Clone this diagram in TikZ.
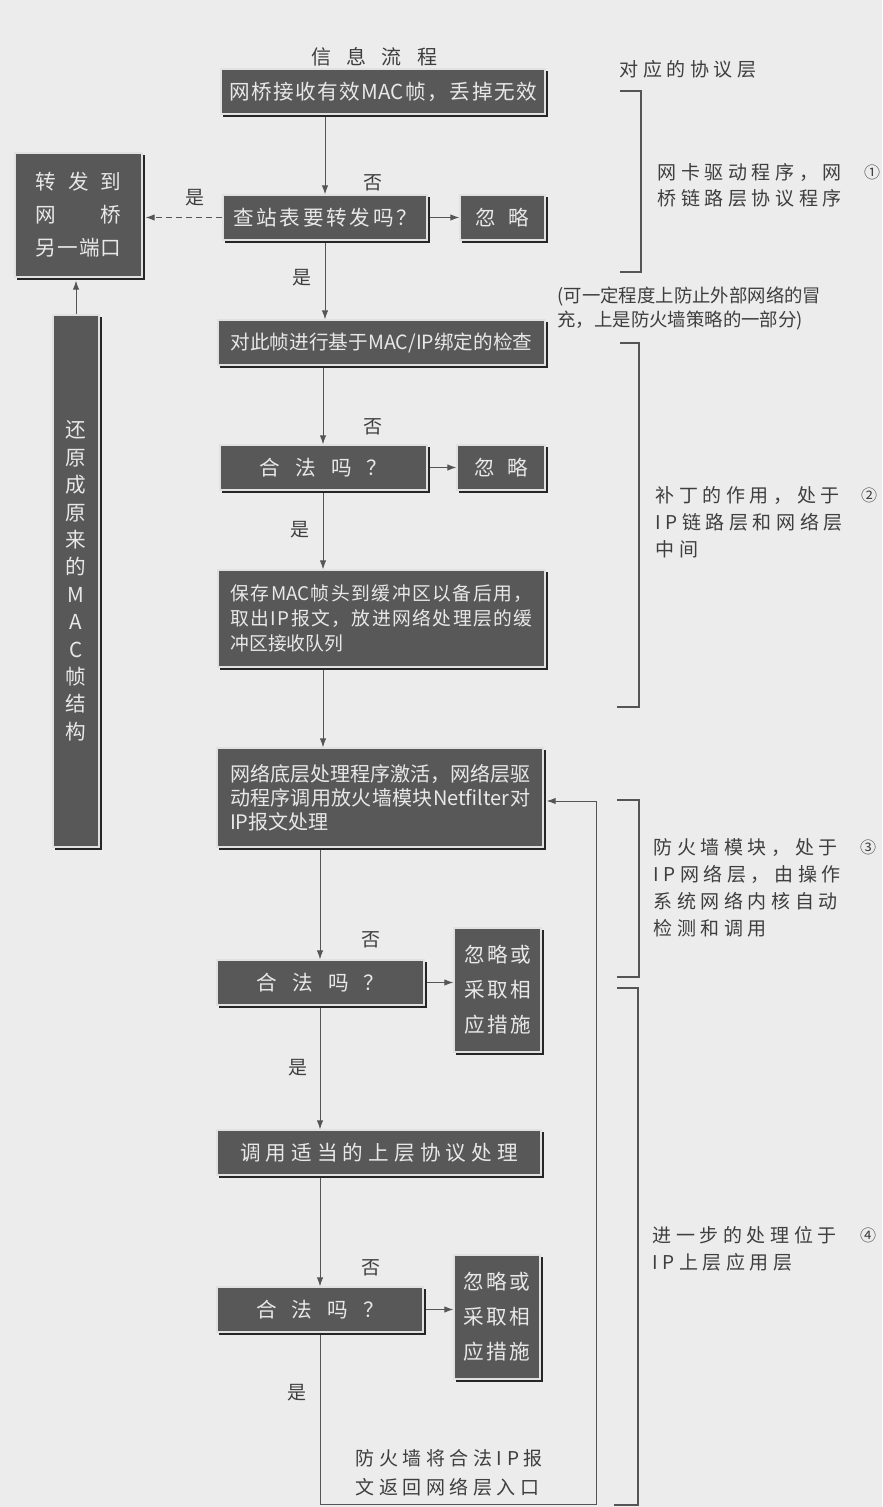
\documentclass[tikz,border=0pt]{standalone}
\usepackage{fontspec}
\setmainfont{Noto Sans CJK SC}
\usetikzlibrary{shadows,arrows.meta}
\definecolor{bgc}{RGB}{236,236,236}
\definecolor{boxgray}{RGB}{88,88,88}
\definecolor{boxedge}{RGB}{225,225,225}
\definecolor{boxtext}{RGB}{232,232,232}
\definecolor{ink}{RGB}{62,62,62}
\definecolor{linec}{RGB}{85,85,85}
\newcommand\boxfont{\fontsize{10.3}{12}\selectfont}
\newcommand\lblfont{\fontsize{9.5}{10}\selectfont}
\newcommand\rfont{\fontsize{9.5}{13.5}\selectfont}
\def\spcend{SPCEND}
\newcommand\spc[2]{\def\spcgap{#1}\spcloop#2\spcend}
\def\spcloop#1#2{#1\ifx\spcend#2\else\spcgap\expandafter\spcloop\expandafter#2\fi}
\newcommand\rs[1]{\spc{\hspace{2.3pt}}{#1}}
\newcommand\fs[2]{\makebox[#1][s]{\spc{\hfill}{#2}}}
\newcommand\mac{\mbox{MAC}}
\newcommand\macip{\mbox{MAC/IP}}
\newcommand\netf{\mbox{Netfilter}}
\pgfdeclarelayer{bgfill}
\pgfdeclarelayer{bglines}
\pgfsetlayers{bgfill,bglines,main}
\begin{document}
\begin{tikzpicture}[x=0.5pt,y=-0.5pt,
  fbox/.style={rectangle, fill=boxgray, draw=boxedge, line width=0.6pt, inner sep=0pt,
    text=boxtext, font=\boxfont, align=center,
    copy shadow={shadow xshift=1.4pt, shadow yshift=-1.4pt, fill=black!85, draw=black!85}},
  lbl/.style={text=ink, font=\lblfont, inner sep=0pt},
  rtext/.style={text=ink, font=\rfont, align=left, anchor=west, inner sep=0pt},
  conn/.style={draw=linec, line width=0.5pt},
  arr/.style={conn, -{Latex[length=4.5pt,width=3.2pt]}},
  brk/.style={draw=linec, line width=0.6pt},
  circ/.style={text=ink, font=\fontsize{8}{8}\selectfont, inner sep=0pt}]
\begin{pgfonlayer}{bgfill}
\fill[bgc] (0,0) rectangle (882,1507);
\end{pgfonlayer}
\useasboundingbox (0,0) rectangle (882,1507);

% title
\node[lbl, font=\fontsize{10}{10}\selectfont] (title) at (374,57) {\fs{63pt}{信息流程}};

% boxes
\node[fbox, minimum width=162pt, minimum height=22.5pt] (b1) at (383,91.5) {\fs{154pt}{网桥接收有效\mac 帧，丢掉无效}};
\node[fbox, minimum width=102pt, minimum height=22.5pt] (b2) at (325,217.5) {\fs{92pt}{查站表要转发吗？}};
\node[fbox, minimum width=42.5pt, minimum height=22.5pt] (i1) at (502.5,217.5) {\fs{27pt}{忽略}};
\node[fbox, minimum width=63.5pt, minimum height=62pt, font=\fontsize{10.3}{16.5}\selectfont] (lb) at (78.5,215)
  {\fs{43pt}{转发到}\\\fs{43pt}{网桥}\\\fs{43pt}{另一端口}};
\node[fbox, minimum width=163.5pt, minimum height=22.5pt, font=\fontsize{9.8}{12}\selectfont] (b3) at (381.5,342.5) {\fs{151pt}{对此帧进行基于\macip 绑定的检查}};
\node[fbox, minimum width=103.5pt, minimum height=22.5pt] (b4) at (323.5,467.5) {\fs{64pt}{合法吗？}};
\node[fbox, minimum width=44pt, minimum height=22.5pt] (i2) at (501,467.5) {\fs{27pt}{忽略}};
\node[fbox, minimum width=163.5pt, minimum height=48.5pt, align=left, text width=151pt,
  font=\fontsize{9.4}{12.5}\selectfont] (b5) at (381.5,618.5)
  {\fs{151pt}{保存\mac 帧头到缓冲区以备后用，}\\\fs{151pt}{取出IP报文，放进网络处理层的缓}\\冲区接收队列};
\node[fbox, minimum width=23pt, minimum height=266pt, font=\fontsize{10.3}{13.7}\selectfont] (ll) at (76,581)
  {还\\原\\成\\原\\来\\的\\M\\A\\C\\帧\\结\\构};
\node[fbox, minimum width=163pt, minimum height=49.5pt, align=left, text width=150pt,
  font=\fontsize{10}{12}\selectfont] (b6) at (380,797.5)
  {\fs{150pt}{网络底层处理程序激活，网络层驱}\\\fs{150pt}{动程序调用放火墙模块\netf 对}\\IP报文处理};
\node[fbox, minimum width=103.5pt, minimum height=22.5pt] (b7) at (320.5,982.5) {\fs{64pt}{合法吗？}};
\node[fbox, minimum width=43.5pt, minimum height=62pt, font=\fontsize{10.3}{17.5}\selectfont] (b8) at (497.5,990)
  {\fs{33.5pt}{忽略或}\\\fs{33.5pt}{采取相}\\\fs{33.5pt}{应措施}};
\node[fbox, minimum width=162pt, minimum height=22.5pt] (b9) at (379,1152.5) {\fs{139pt}{调用适当的上层协议处理}};
\node[fbox, minimum width=103pt, minimum height=22.5pt] (b10) at (320,1309.5) {\fs{64pt}{合法吗？}};
\node[fbox, minimum width=43pt, minimum height=62pt, font=\fontsize{10.3}{17.5}\selectfont] (b11) at (497,1317)
  {\fs{33.5pt}{忽略或}\\\fs{33.5pt}{采取相}\\\fs{33.5pt}{应措施}};

% yes / no labels
\node[lbl] (n1) at (373,183) {否};
\node[lbl] (y0) at (195,198) {是};
\node[lbl] (y1) at (302,278) {是};
\node[lbl] (n2) at (373,427) {否};
\node[lbl] (y2) at (300,530) {是};
\node[lbl] (n3) at (371,940) {否};
\node[lbl] (y3) at (298,1068) {是};
\node[lbl] (n4) at (371,1268) {否};
\node[lbl] (y4) at (297,1393) {是};

% right side texts
\node[rtext, anchor=center] (hdr) at (688,69) {\rs{对应的协议层}};
\node[rtext, font=\fontsize{9.5}{13}\selectfont] (t1) at (657,185) {\rs{网卡驱动程序，网}\\\rs{桥链路层协议程序}};
\node[rtext, font=\fontsize{9.2}{12}\selectfont] (note) at (557,308) {(可一定程度上防止外部网络的冒\\充，上是防火墙策略的一部分)};
\node[rtext] (t2) at (655,522.5) {\rs{补丁的作用，处于}\\\rs{IP链路层和网络层}\\\rs{中间}};
\node[rtext] (t3) at (653,888) {\rs{防火墙模块，处于}\\\rs{IP网络层，由操作}\\\rs{系统网络内核自动}\\\rs{检测和调用}};
\node[rtext] (t4) at (652,1248.5) {\rs{进一步的处理位于}\\\rs{IP上层应用层}};
\node[rtext, font=\fontsize{9.5}{14.5}\selectfont] (t5) at (355,1472.5) {\rs{防火墙将合法IP报}\\\rs{文返回网络层入口}};
\node[circ] (c1) at (872,172) {①};
\node[circ] (c2) at (869,495) {②};
\node[circ] (c3) at (868,847) {③};
\node[circ] (c4) at (868,1235) {④};

% connectors
\coordinate (xa) at (325,0);
\coordinate (xb) at (323,0);
\coordinate (xc) at (320,0);
\coordinate (fb1) at (596,1504);
\coordinate (fb2) at (596,801);
\begin{pgfonlayer}{bglines}
\draw[arr] (b1.south -| xa) -- (b2.north -| xa);
\draw[arr] (b2.south -| xa) -- (b3.north -| xa);
\draw[arr] (b2.east) -- (i1.west);
\draw[arr, dash pattern=on 3pt off 2pt, shorten >=1.5pt] (b2.west) -- (b2.west -| lb.east);
\draw[arr, shorten >=1.5pt] (ll.north) -- (ll.north |- lb.south);
\draw[arr] (b3.south -| xb) -- (b4.north -| xb);
\draw[arr] (b4.east) -- (i2.west);
\draw[arr] (b4.south -| xb) -- (b5.north -| xb);
\draw[arr] (b5.south -| xb) -- (b6.north -| xb);
\draw[arr] (b6.south -| xc) -- (b7.north -| xc);
\draw[arr] (b7.east) -- (b7.east -| b8.west);
\draw[arr] (b7.south -| xc) -- (b9.north -| xc);
\draw[arr] (b9.south -| xc) -- (b10.north -| xc);
\draw[arr] (b10.east) -- (b10.east -| b11.west);
\draw[arr, shorten >=1.5pt] (b10.south -| xc) |- (fb1) -- (fb2) -- (fb2 -| b6.east);
\end{pgfonlayer}

% brackets
\draw[brk] (620,91) -- (641,91) -- (641,272) -- (620,272);
\draw[brk] (620,343) -- (639,343) -- (639,707) -- (617,707);
\draw[brk] (617,800) -- (639,800) -- (639,977) -- (617,977);
\draw[brk] (617,988) -- (638,988) -- (638,1505) -- (614,1505);
\end{tikzpicture}
\end{document}
